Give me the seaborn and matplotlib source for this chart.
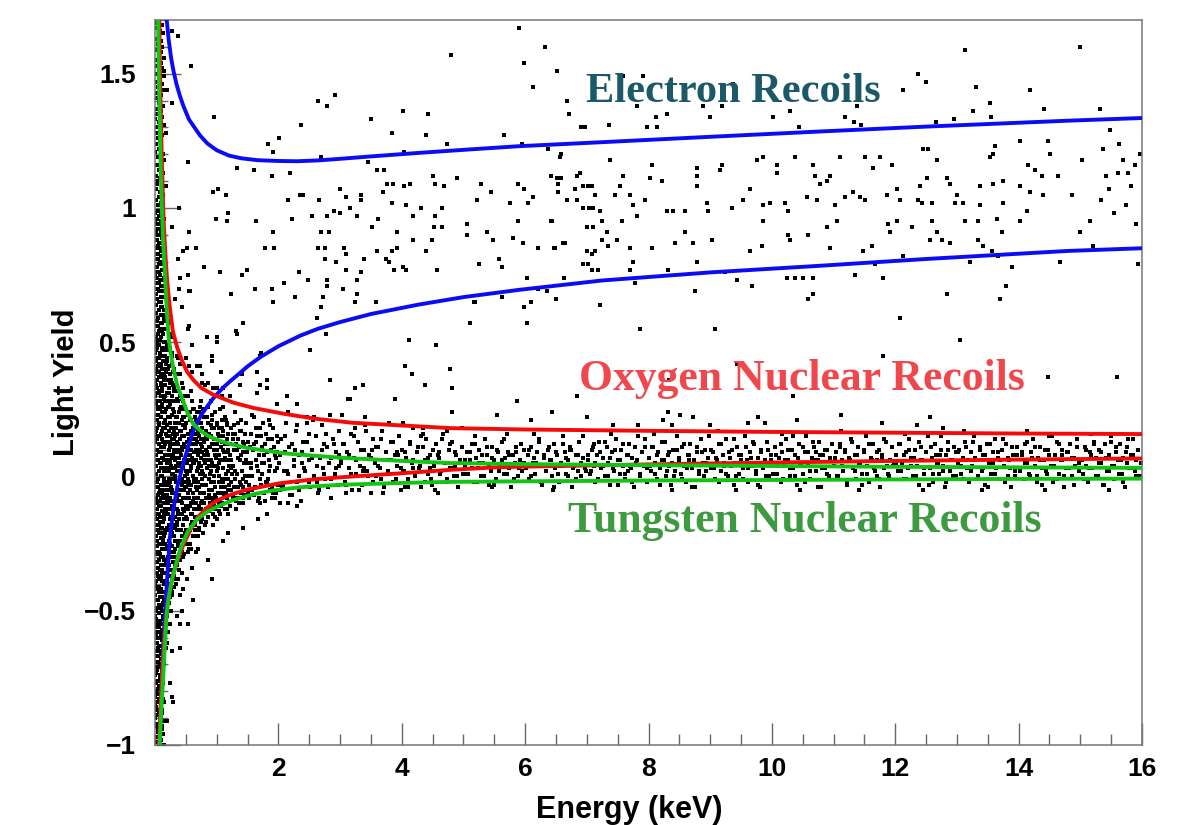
import numpy as np
import pandas as pd
import matplotlib
matplotlib.use("Agg")
import matplotlib.pyplot as plt
from matplotlib.ticker import MultipleLocator, FixedLocator, FuncFormatter
import seaborn as sns

# ---------------------------------------------------------------------------
# Recorded events: "energy light_yield" pairs, both in units of 1/100
# (keV and light-yield units).
# ---------------------------------------------------------------------------
events_threshold = """
4 169, 11 168, 2 167, 8 166, 13 165, 6 164, 1 163, 10 162, 5 161, 12 160, 3 159, 9 158, 7 157, 14 156, 0 155,
9 154, 3 153, 12 152, 6 151, 0 150, 14 149, 8 148, 2 147, 11 146, 5 145, 13 144, 1 143, 10 142, 4 141, 7 140,
6 139, 13 138, 1 137, 9 136, 4 135, 11 134, 0 133, 7 132, 14 131, 3 130, 10 129, 2 128, 12 127, 5 126, 8 125,
2 124, 10 123, 7 122, 0 121, 12 120, 5 119, 14 118, 9 117, 3 116, 11 115, 6 114, 13 113, 1 112, 8 111, 4 110,
4 109, 11 108, 2 107, 8 106, 13 105, 6 104, 1 103, 10 102, 5 101, 12 100, 3 99, 9 98, 7 97, 14 96, 0 95,
6 94, 13 93, 1 92, 9 91, 4 90, 11 89, 0 88, 7 87, 14 86, 3 85, 10 84, 2 83, 12 82, 5 81, 8 80,
9 79, 3 78, 12 77, 6 76, 0 75, 14 74, 8 73, 2 72, 11 71, 5 70, 13 69, 1 68, 10 67, 4 66, 7 65,
2 64, 10 63, 7 62, 0 61, 12 60, 5 59, 14 58, 9 57, 3 56, 11 55, 6 54, 13 53, 1 52, 8 51, 4 50,
4 49, 11 48, 2 47, 8 46, 13 45, 6 44, 1 43, 10 42, 5 41, 12 40, 3 39, 9 38, 7 37, 14 36, 0 35,
9 34, 3 33, 12 32, 6 31, 0 30, 14 29, 8 28, 2 27, 11 26, 5 25, 13 24, 1 23, 10 22, 4 21, 7 20,
6 19, 13 18, 1 17, 9 16, 4 15, 11 14, 0 13, 7 12, 14 11, 3 10, 10 9, 2 8, 12 7, 5 6, 8 5,
2 4, 10 3, 7 2, 0 1, 12 0, 5 -1, 14 -2, 9 -3, 3 -4, 11 -5, 6 -6, 13 -7, 1 -8, 8 -9, 4 -10,
9 -11, 3 -12, 12 -13, 6 -14, 0 -15, 14 -16, 8 -17, 2 -18, 11 -19, 5 -20, 13 -21, 1 -22, 10 -23, 4 -24, 7 -25,
4 -26, 11 -27, 2 -28, 8 -29, 13 -30, 6 -31, 1 -32, 10 -33, 5 -34, 12 -35, 3 -36, 9 -37, 7 -38, 14 -39, 0 -40,
2 -41, 10 -42, 7 -43, 0 -44, 12 -45, 5 -46, 14 -47, 9 -48, 3 -49, 11 -50, 6 -51, 13 -52, 1 -53, 8 -54, 4 -55,
6 -56, 13 -57, 1 -58, 9 -59, 4 -60, 11 -61, 0 -62, 7 -63, 14 -64, 3 -65, 10 -66, 2 -67, 12 -68, 5 -69, 8 -70,
4 -71, 11 -72, 2 -73, 8 -74, 13 -75, 6 -76, 1 -77, 10 -78, 5 -79, 12 -80, 3 -81, 9 -82, 7 -83, 14 -84, 0 -85,
9 -86, 3 -87, 12 -88, 6 -89, 0 -90, 14 -91, 8 -92, 2 -93, 11 -94, 5 -95, 13 -96, 1 -97, 10 -98, 4 -99, 7 -100,
14 55, 18 42, 12 30, 16 18, 19 5, 13 -8, 17 -20, 15 -33, 20 -45, 12 -58, 18 48, 14 36, 16 24, 13 11, 19 -2,
15 -14, 17 -27, 12 -39, 18 -52, 14 60, 16 -60, 20 28, 13 -24, 17 40, 15 2, 19 -36, 12 14, 18 -10, 14 -46, 16 50,
27 166, 15 151, 19 144, 28 139, 18 128, 13 120, 18 108, 39 100,
7 99, 0 98, 13 97, 4 96, 10 95, 2 94, 12 93, 6 92, 1 91, 9 90, 14 89, 3 88, 11 87, 5 86, 8 85,
12 84, 5 83, 9 82, 1 81, 14 80, 7 79, 3 78, 11 77, 0 76, 8 75, 4 74, 13 73, 6 72, 10 71, 2 70,
7 69, 0 68, 13 67, 4 66, 10 65, 2 64, 12 63, 6 62, 1 61, 9 60, 14 59, 3 58, 11 57, 5 56, 8 55,
12 54, 5 53, 9 52, 1 51, 14 50, 7 49, 3 48, 11 47, 0 46, 8 45, 4 44, 13 43, 6 42, 10 41, 2 40,
7 39, 0 38, 13 37, 4 36, 10 35, 2 34, 12 33, 6 32, 1 31, 9 30, 14 29, 3 28, 11 27, 5 26, 8 25,
12 24, 5 23, 9 22, 1 21, 14 20, 7 19, 3 18, 11 17, 0 16, 8 15, 4 14, 13 13, 6 12, 10 11, 2 10,
7 9, 0 8, 13 7, 4 6, 10 5, 2 4, 12 3, 6 2, 1 1, 9 0, 14 -1, 3 -2, 11 -3, 5 -4, 8 -5,
12 -6, 5 -7, 9 -8, 1 -9, 14 -10, 7 -11, 3 -12, 11 -13, 0 -14, 8 -15, 4 -16, 13 -17, 6 -18, 10 -19, 2 -20,
7 -21, 0 -22, 13 -23, 4 -24, 10 -25, 2 -26, 12 -27, 6 -28, 1 -29, 9 -30, 14 -31, 3 -32, 11 -33, 5 -34, 8 -35,
12 -36, 5 -37, 9 -38, 1 -39, 14 -40, 7 -41, 3 -42, 11 -43, 0 -44, 8 -45, 4 -46, 13 -47, 6 -48, 10 -49, 2 -50,
7 -51, 0 -52, 13 -53, 4 -54, 10 -55, 2 -56, 12 -57, 6 -58, 1 -59, 9 -60, 14 -61, 3 -62, 11 -63, 5 -64, 8 -65,
12 -66, 5 -67, 9 -68, 1 -69, 14 -70, 7 -71, 3 -72, 11 -73, 0 -74, 8 -75, 4 -76, 13 -77, 6 -78, 10 -79, 2 -80,
7 -81, 0 -82, 13 -83, 4 -84, 10 -85, 2 -86, 12 -87, 6 -88, 1 -89, 9 -90, 14 -91, 3 -92, 11 -93, 5 -94, 8 -95,
12 -96, 5 -97, 9 -98, 1 -99, 14 -100
"""

events_low_energy = """
15 62, 17 45, 22 58, 19 31, 26 52, 16 12, 21 40, 28 35, 18 -8, 24 22, 20 5, 27 18, 16 -25, 23 -12, 29 8,
18 -40, 25 -2, 21 -30, 17 50, 26 28, 22 -18, 19 68, 28 -5, 15 -48, 24 48, 20 15, 27 -22, 16 30, 23 2, 29 25,
18 -55, 25 38, 21 -10, 17 20, 26 -35, 22 10, 19 -62, 28 14, 15 -15, 24 -28, 20 55, 27 42, 16 -3, 23 33, 29 -12,
18 25, 25 -45, 21 -58, 17 -33, 26 4, 22 26, 19 -20, 28 -26, 15 38, 24 12, 20 -50, 27 30, 16 47, 23 -40, 29 -1,
18 16, 25 20, 21 64, 17 -12, 26 -15, 22 -5, 19 44, 28 45, 15 -60, 24 -8, 20 36, 27 7, 16 -43, 23 -24, 29 16,
18 3, 25 6,
31 40, 36 22, 44 10, 33 -15, 41 30, 47 -5, 38 5, 30 -30, 35 45, 42 -20, 48 18, 34 12, 39 -35, 45 25, 32 0,
37 32, 43 -10, 49 6, 31 -22, 36 -2, 40 17, 46 -12, 33 28, 38 -25, 44 35, 30 14, 35 -8, 41 2, 47 12, 34 -40,
39 24, 45 -18, 32 20, 37 -14, 42 8, 48 -8, 31 9, 36 38, 43 21, 49 -2, 33 -32, 40 -5, 46 28, 35 16, 30 -12,
38 44, 44 -28, 41 14, 47 22, 34 4, 39 -16, 45 3, 32 -38, 37 10, 42 26, 48 0, 36 -24, 43 -3, 33 6, 40 -44,
46 4, 31 24, 35 -20, 44 15, 49 11, 38 -9, 42 -14, 30 32, 47 -16, 34 18, 39 7, 45 -25, 37 -30, 41 42, 48 30,
32 -6, 36 13, 43 -22,
51 20, 56 -5, 62 12, 68 2, 74 -12, 79 8, 53 30, 59 -18, 65 22, 71 15, 77 -3, 52 5, 58 10, 64 -22, 70 -8,
76 18, 54 -12, 60 28, 66 6, 72 -15, 78 25, 55 14, 61 0, 67 -28, 73 10, 57 -25, 63 18, 69 -2, 75 4, 80 -10,
50 -20, 56 24, 62 -10, 68 20, 74 12, 79 -6, 53 8, 59 3, 65 -15, 71 -20, 77 14, 52 -8, 58 32, 64 5, 70 9,
76 -16, 54 16, 60 -14, 66 -4, 72 24, 78 1, 55 -2, 61 18, 67 12, 73 -6, 57 10, 63 -8, 69 16, 75 -10, 80 6,
51 -15, 62 25, 68 -12, 74 28, 56 12, 64 -2, 70 -22, 58 -10, 66 14, 72 4, 78 -14, 60 7, 76 9, 53 -28,
82 10, 88 -5, 95 18, 101 4, 108 -10, 114 12, 119 2, 84 22, 91 -12, 97 8, 104 15, 111 -2, 117 20, 86 -15, 93 5,
99 -8, 106 25, 112 6, 81 0, 87 16, 94 -18, 100 12, 107 -4, 113 -12, 118 9, 83 -8, 90 28, 96 -2, 103 8, 109 18,
115 -6, 85 6, 92 12, 98 24, 105 -14, 110 3, 116 14, 89 -10, 102 -6, 120 -3, 84 14, 91 2, 97 -12, 104 0, 111 10,
117 -8, 86 26, 93 18, 100 -16, 107 6, 113 22, 119 16, 82 -12, 95 10, 108 13, 88 4, 101 20, 114 -1, 96 14,
103 -10, 110 26, 118 -14,
121 8, 128 -4, 134 14, 141 2, 147 20, 153 -8, 159 10, 165 4, 172 -3, 178 12, 184 6, 191 -6, 197 15, 124 18,
131 -8, 137 6, 144 12, 150 0, 156 16, 162 -4, 169 8, 175 20, 181 -2, 188 10, 194 2, 123 -2, 130 24, 136 -10,
143 -4, 149 9, 155 3, 161 22, 168 -8, 174 1, 180 16, 187 -5, 193 11, 199 -3, 126 4, 133 10, 139 -6, 146 16,
152 5, 158 -5, 164 13, 171 18, 177 -6, 183 -1, 190 14, 196 7, 122 12, 129 2, 135 20, 142 -10, 148 -2, 154 11,
160 -7, 167 2, 173 11, 179 -9, 186 4, 192 18, 198 9, 127 14, 140 8, 151 13, 163 6, 176 5, 189 -8, 132 -12,
145 -7, 157 23, 170 -10, 185 21, 195 -8, 138 17, 166 15, 182 9,
46 -42, 53 -55, 41 -55, 41 -64, 28 -65, 92 -38, 86 -31, 110 -24, 62 -46, 44 -50, 60 -34, 52 -38, 28 -82,
29 -84, 24 -77, 19 -91, 118 -21, 143 -19, 167 -16, 182 -14, 203 -10, 216 -10, 230 -11, 35 -52, 70 -27,
17 8, 21 -14, 25 27, 30 -6, 18 -32, 23 41, 28 12, 33 -19, 20 -45, 26 -9, 31 33, 16 21, 22 -27, 27 53, 32 3,
19 -52, 24 -37, 29 -16, 34 22, 18 60, 23 17, 28 -43, 33 -1, 21 6, 26 36, 31 -28, 17 -21, 22 47, 27 -6, 32 15,
20 -2, 25 -30, 30 24, 35 -12, 19 13, 24 -55, 29 39, 34 7, 16 -36, 21 26, 26 -20, 31 10, 18 -64, 23 -3, 28 23,
33 -33, 20 43, 25 13, 30 -41, 35 29, 17 34, 22 -47, 27 1, 32 -24, 19 -9, 24 3, 29 -32, 34 -8, 21 57, 26 -50,
36 -17, 40 9, 45 -30, 50 20, 55 -8, 60 14, 65 -20, 70 3, 38 28, 43 -2, 48 -21, 53 11, 58 -14, 63 25, 68 -5,
37 -38, 42 17, 47 6, 52 -25, 57 2, 62 -9, 67 19, 39 -7, 44 -36, 49 26, 54 -3, 59 17, 64 9, 69 -16, 41 -24,
46 33, 51 -11, 56 8, 61 -22, 66 -1, 36 2, 43 11, 50 -4, 57 21, 64 -12, 38 -13, 45 19, 52 1, 59 -27, 66 10,
40 38, 47 -29, 54 23, 61 5, 68 13,
72 -4, 76 11, 81 -18, 85 3, 90 19, 94 -9, 99 7, 103 -2, 108 21, 112 -7, 117 6, 74 20, 79 -10, 83 15, 88 -1,
92 23, 97 -15, 101 10, 106 -6, 111 17, 115 1, 120 12, 71 5, 78 -21, 86 8, 93 -5, 100 2, 107 -11, 114 7,
119 -5, 73 26, 80 14, 87 -8, 95 0, 102 16, 109 -1, 116 19, 75 -17, 89 11, 104 5,
124 3, 130 16, 137 -2, 143 9, 150 -6, 156 5, 163 18, 170 -1, 176 8, 183 14, 190 -4, 197 3, 126 -7, 133 1,
140 21, 147 6, 153 -3, 160 12, 167 -9, 173 5, 180 -2, 187 19, 194 8, 199 13, 128 10, 142 -8, 158 0, 172 15,
185 2, 196 -6,
16 -5, 20 19, 24 -28, 28 3, 17 37, 21 -41, 25 11, 29 -18, 18 -13, 22 31, 26 -4, 30 -37, 15 24, 19 -26, 23 8,
27 46, 16 -50, 20 -7, 24 15, 28 -30, 17 2, 21 22, 25 -16, 29 34, 18 -36, 22 -1, 26 18, 30 9, 15 -22, 19 49,
23 -33, 27 -11, 16 28, 20 -19, 24 5, 28 -44, 17 -3, 21 13, 25 -25, 29 1, 18 39, 22 -9, 26 -42, 30 17, 15 6,
19 -14, 23 26, 27 -21, 20 -31, 24 35,
31 -11, 34 16, 37 -26, 40 4, 43 29, 46 -8, 49 19, 52 -16, 55 6, 58 -3, 32 34, 35 -18, 38 12, 41 -31, 44 -1,
47 15, 50 -12, 53 24, 56 -20, 59 10, 33 3, 36 -33, 39 20, 42 -9, 45 11, 48 -24, 51 2, 54 -6, 57 16, 60 -17,
31 18, 34 -2, 37 7, 40 -20, 43 -14, 46 22, 49 -4, 52 13, 55 -27, 58 21, 32 -27, 35 9, 38 -7, 41 25, 44 5,
47 -13, 50 30, 53 -1, 56 -11, 59 4,
61 -6, 64 12, 67 -15, 70 17, 73 1, 76 -9, 79 22, 82 -3, 85 9, 88 -13, 91 15, 94 4, 97 -7, 100 19, 62 6,
65 -18, 68 24, 71 -11, 74 7, 77 -1, 80 13, 83 -17, 86 20, 89 1, 92 -8, 95 12, 98 -4, 63 16, 66 -10, 69 3,
72 -19, 75 14, 78 -6, 81 5, 84 -12, 87 11, 90 -2, 93 21, 96 -11, 99 8, 64 -1, 70 8, 76 2, 82 17, 88 -7,
94 -14, 100 -9, 67 21, 79 -13, 91 6,
102 3, 106 -9, 110 15, 114 -4, 118 10, 122 -11, 126 16, 130 -1, 134 7, 138 -8, 142 13, 146 0, 150 5, 104 18,
108 -2, 112 9, 116 -12, 120 4, 124 -5, 128 19, 132 -9, 136 11, 140 -3, 144 5, 148 -7, 103 -13, 107 11,
111 -6, 115 21, 119 -1, 123 6, 127 -8, 131 12, 135 -4, 139 17, 143 -1, 147 9, 105 6, 125 1
"""

events_band = """
201 5, 204 14, 207 -3, 210 9, 213 20, 216 1, 219 -7, 222 12, 225 4, 228 17, 231 -2, 234 8, 237 -9, 240 13,
243 2, 246 22, 249 6, 252 -4, 255 10, 258 0, 261 15, 264 -6, 267 7, 270 19, 273 3, 276 -1, 279 11, 282 5,
285 -8, 288 14, 291 1, 294 9, 297 -3, 299 17, 203 -5, 215 24, 227 10, 238 5, 250 16, 262 -2, 274 12, 286 7,
298 4, 209 2, 233 -5, 256 21, 281 -4,
302 6, 305 12, 308 -2, 311 9, 314 3, 317 16, 320 -5, 323 7, 326 1, 329 13, 332 4, 335 -3, 338 10, 341 19,
344 2, 347 8, 350 -6, 353 14, 356 5, 359 0, 362 11, 365 3, 368 17, 371 -4, 374 9, 377 6, 380 1, 383 13,
386 -2, 389 8, 392 4, 395 15, 398 -5, 401 10, 404 2, 407 7, 410 -1, 413 12, 416 5, 419 18, 422 0, 425 9,
428 3, 431 -4, 434 11, 437 6, 440 14, 443 1, 446 8, 449 -3, 452 4, 455 12, 458 -6, 461 7, 464 2, 467 16,
470 5, 473 -2, 476 10, 479 3, 482 13, 485 0, 488 8, 491 -4, 494 6, 497 11, 310 -6, 324 18, 337 2, 351 10,
366 -1, 379 20, 393 9, 406 -4, 418 3, 432 15, 447 -1, 460 9, 474 17, 487 4, 499 1,
502 4, 505 9, 508 1, 511 6, 514 12, 517 -2, 520 7, 523 3, 526 10, 529 0, 532 5, 535 14, 538 8, 541 -3,
544 2, 547 11, 550 6, 553 -1, 556 9, 559 4, 562 13, 565 1, 568 7, 571 16, 574 3, 577 -4, 580 8, 583 5,
586 11, 589 0, 592 6, 595 2, 598 10, 518 15, 546 -4, 573 9,
601 3, 604 8, 607 -1, 610 11, 613 5, 616 1, 619 9, 622 14, 625 4, 628 -3, 631 7, 634 2, 637 10, 640 6,
643 0, 646 12, 649 3, 652 8, 655 -2, 658 5, 661 15, 664 9, 667 1, 670 6, 673 11, 676 -4, 679 4, 682 8,
685 2, 688 13, 691 0, 694 7, 697 3, 615 16, 645 -5, 672 10,
702 6, 705 1, 708 10, 711 4, 714 -2, 717 8, 720 13, 723 3, 726 7, 729 0, 732 11, 735 5, 738 -3, 741 9,
744 2, 747 14, 750 6, 753 1, 756 10, 759 4, 762 -1, 765 8, 768 12, 771 3, 774 7, 777 -4, 780 5, 783 15,
786 1, 789 9, 792 4, 795 11, 798 -2, 712 12, 740 16, 766 2,
801 7, 804 2, 807 11, 810 5, 813 -1, 816 9, 819 3, 822 13, 825 6, 828 0, 831 8, 834 4, 837 -3, 840 10,
843 2, 846 15, 849 6, 852 1, 855 11, 858 4, 861 -2, 864 8, 867 12, 870 3, 873 6, 876 -4, 879 9, 882 1,
885 14, 888 5, 891 10, 894 2, 897 7, 809 16, 838 -5, 866 6,
902 3, 905 9, 908 -1, 911 6, 914 12, 917 2, 920 8, 923 4, 926 14, 929 0, 932 7, 935 10, 938 -3, 941 5,
944 11, 947 1, 950 8, 953 3, 956 15, 959 6, 962 -2, 965 9, 968 4, 971 12, 974 1, 977 7, 980 -4, 983 10,
986 3, 989 6, 992 13, 995 0, 998 8, 913 17, 942 -5, 970 5,
1002 5, 1005 11, 1008 1, 1011 7, 1014 -2, 1017 9, 1020 4, 1023 14, 1026 6, 1029 0, 1032 10, 1035 3,
1038 8, 1041 -3, 1044 12, 1047 5, 1050 1, 1053 9, 1056 15, 1059 4, 1062 -1, 1065 7, 1068 11, 1071 2,
1074 6, 1077 13, 1080 -4, 1083 8, 1086 3, 1089 10, 1092 0, 1095 6, 1098 12, 1016 16, 1046 -5, 1072 9,
1101 4, 1104 9, 1107 0, 1110 12, 1113 6, 1116 2, 1119 10, 1122 -3, 1125 7, 1128 14, 1131 3, 1134 8,
1137 -1, 1140 11, 1143 5, 1146 1, 1149 9, 1152 15, 1155 4, 1158 -2, 1161 7, 1164 12, 1167 2, 1170 6,
1173 10, 1176 -4, 1179 8, 1182 3, 1185 13, 1188 1, 1191 6, 1194 11, 1197 4, 1112 17, 1142 -5, 1171 0,
1202 8, 1205 2, 1208 12, 1211 5, 1214 -1, 1217 9, 1220 3, 1223 14, 1226 7, 1229 0, 1232 10, 1235 4,
1238 -3, 1241 11, 1244 6, 1247 1, 1250 9, 1253 15, 1256 3, 1259 7, 1262 -2, 1265 12, 1268 5, 1271 1,
1274 10, 1277 4, 1280 -4, 1283 8, 1286 13, 1289 2, 1292 6, 1295 11, 1298 0, 1215 16, 1245 -5, 1273 8,
1301 5, 1304 10, 1307 1, 1310 7, 1313 13, 1316 3, 1319 -2, 1322 9, 1325 4, 1328 15, 1331 6, 1334 0,
1337 11, 1340 2, 1343 8, 1346 -3, 1349 12, 1352 5, 1355 1, 1358 9, 1361 14, 1364 3, 1367 7, 1370 -1,
1373 10, 1376 4, 1379 12, 1382 0, 1385 6, 1388 -4, 1391 8, 1394 2, 1397 11, 1311 17, 1341 -5, 1369 6,
1402 3, 1405 8, 1408 -1, 1411 12, 1414 5, 1417 1, 1420 9, 1423 14, 1426 4, 1429 0, 1432 7, 1435 11,
1438 -3, 1441 6, 1444 2, 1447 10, 1450 15, 1453 4, 1456 -2, 1459 8, 1462 13, 1465 1, 1468 6, 1471 10,
1474 -4, 1477 3, 1480 9, 1483 12, 1486 0, 1489 7, 1492 4, 1495 14, 1498 2, 1413 17, 1443 -5, 1470 8,
1501 6, 1504 1, 1507 11, 1510 4, 1513 -2, 1516 9, 1519 3, 1522 13, 1525 7, 1528 0, 1531 10, 1534 5,
1537 -3, 1540 12, 1543 2, 1546 8, 1549 15, 1552 4, 1555 -1, 1558 9, 1561 6, 1564 12, 1567 1, 1570 7,
1573 -4, 1576 11, 1579 3, 1582 8, 1585 14, 1588 2, 1591 6, 1594 10, 1597 0, 1517 16, 1547 -5, 1575 5,
202 8, 206 -4, 210 15, 214 2, 218 11, 222 -7, 226 6, 230 19, 234 0, 238 9, 242 3, 246 13, 250 -2,
254 7, 258 22, 262 4, 266 -5, 270 10, 274 1, 278 16, 282 5, 286 -1, 290 12, 294 3, 298 8,
302 5, 306 12, 310 -3, 314 8, 318 1, 322 15, 326 6, 330 -5, 334 10, 338 3, 342 17, 346 0, 350 7,
354 -2, 358 11, 362 4, 366 14, 370 -6, 374 9, 378 2, 382 6, 386 13, 390 -1, 394 8, 398 3,
402 2, 406 9, 410 -4, 414 13, 418 6, 422 0, 426 11, 430 4, 434 16, 438 -2, 442 7, 446 3, 450 10,
454 -5, 458 8, 462 1, 466 14, 470 5, 474 -1, 478 12, 482 3, 486 9, 490 0, 494 6, 498 18,
502 6, 506 1, 510 9, 514 3, 518 12, 522 -2, 526 5, 530 8, 534 0, 538 11, 542 4, 546 7, 550 -3,
554 10, 558 2, 562 6, 566 14, 570 1, 574 8, 578 4, 582 -1, 586 9, 590 3, 594 12, 598 5,
602 3, 606 10, 610 0, 614 7, 618 5, 622 13, 626 -2, 630 8, 634 2, 638 11, 642 6, 646 -4, 650 9,
654 1, 658 4, 662 12, 666 7, 670 0, 674 10, 678 3, 682 -1, 686 8, 690 5, 694 15, 698 2,
702 8, 706 2, 710 11, 714 5, 718 -1, 722 9, 726 4, 730 13, 734 0, 738 7, 742 3, 746 10, 750 -3,
754 6, 758 12, 762 1, 766 8, 770 4, 774 -2, 778 11, 782 6, 786 0, 790 9, 794 14, 798 3,
802 4, 806 11, 810 1, 814 8, 818 -3, 822 6, 826 13, 830 2, 834 9, 838 5, 842 0, 846 10, 850 7,
854 -1, 858 12, 862 3, 866 8, 870 -4, 874 6, 878 11, 882 2, 886 9, 890 0, 894 5, 898 15,
902 10, 906 3, 910 7, 914 -2, 918 12, 922 5, 926 1, 930 9, 934 4, 938 14, 942 0, 946 8, 950 6,
954 -1, 958 11, 962 3, 966 7, 970 13, 974 2, 978 -3, 982 9, 986 5, 990 0, 994 10, 998 6,
1002 1, 1006 8, 1010 4, 1014 12, 1018 -1, 1022 6, 1026 10, 1030 3, 1034 15, 1038 0, 1042 7, 1046 5,
1050 11, 1054 -2, 1058 9, 1062 2, 1066 13, 1070 6, 1074 -4, 1078 8, 1082 3, 1086 10, 1090 1, 1094 7, 1098 12,
1102 7, 1106 0, 1110 11, 1114 4, 1118 9, 1122 -2, 1126 6, 1130 13, 1134 2, 1138 8, 1142 5, 1146 -3,
1150 10, 1154 1, 1158 12, 1162 6, 1166 3, 1170 9, 1174 -1, 1178 7, 1182 14, 1186 4, 1190 0, 1194 11, 1198 5,
1202 5, 1206 12, 1210 2, 1214 8, 1218 -1, 1222 10, 1226 4, 1230 7, 1234 0, 1238 13, 1242 6, 1246 3,
1250 9, 1254 -3, 1258 11, 1262 1, 1266 8, 1270 5, 1274 15, 1278 2, 1282 -2, 1286 10, 1290 6, 1294 0, 1298 9,
1302 9, 1306 4, 1310 -1, 1314 11, 1318 6, 1322 2, 1326 13, 1330 7, 1334 0, 1338 10, 1342 3, 1346 8,
1350 -4, 1354 12, 1358 5, 1362 1, 1366 9, 1370 6, 1374 14, 1378 -2, 1382 7, 1386 3, 1390 11, 1394 0, 1398 8,
1402 2, 1406 9, 1410 5, 1414 13, 1418 0, 1422 7, 1426 11, 1430 -2, 1434 6, 1438 3, 1442 10, 1446 1,
1450 8, 1454 15, 1458 4, 1462 -1, 1466 12, 1470 6, 1474 0, 1478 9, 1482 3, 1486 7, 1490 -3, 1494 11, 1498 5,
1502 6, 1506 -1, 1510 10, 1514 3, 1518 8, 1522 12, 1526 0, 1530 5, 1534 9, 1538 -3, 1542 7, 1546 2,
1550 13, 1554 4, 1558 11, 1562 1, 1566 6, 1570 -2, 1574 9, 1578 14, 1582 3, 1586 8, 1590 0, 1594 10, 1598 5
"""

events_electron = """
480 157, 632 160, 598 154, 652 151, 613 145, 668 140, 671 135, 697 130, 292 142, 264 140, 279 138, 237 131,
183 124, 201 126, 191 121, 350 133, 402 136, 442 135, 384 128, 439 127, 473 124, 566 127, 595 124, 269 119,
404 121, 637 122, 658 120, 161 114, 190 112, 219 113, 345 117, 360 114, 371 114, 240 105, 216 103, 266 103,
300 107, 310 104, 334 105, 334 103, 376 109, 386 109, 370 106, 404 108, 413 109, 384 102, 407 101, 431 100,
451 112, 454 109, 468 108, 489 111, 528 109, 545 106, 522 103, 465 100, 454 97, 164 95, 222 96, 254 97,
279 97, 290 99, 300 98, 316 100, 327 97, 361 96, 352 93, 392 91, 418 97, 452 93, 465 93, 506 94, 506 90,
538 91, 548 88, 575 102, 588 95, 580 89, 596 87, 588 109, 598 107, 613 104, 605 102, 642 112, 653 109,
658 111, 689 113, 694 108, 708 108, 713 105, 684 103, 668 103, 703 100, 642 95, 710 93, 647 85, 665 87,
621 85, 708 83, 702 79, 718 77, 178 85, 193 85, 191 91, 162 70, 190 70, 191 65, 227 67, 209 72, 233 76,
248 73, 269 91, 282 91, 264 85, 276 85, 276 81, 293 80, 279 73, 279 71, 272 67, 269 63, 263 59, 305 70,
310 77, 306 85, 310 83, 327 68, 324 65, 327 73, 334 76, 339 81, 360 84, 358 65, 374 81, 379 80, 387 77,
384 84, 392 85, 402 78, 407 77, 418 88, 439 84, 449 88, 457 77, 525 79, 558 81, 562 78, 603 74, 663 74,
519 65, 562 67, 598 63, 609 65, 635 69, 621 70, 511 57, 603 57, 412 51, 455 49, 277 53, 251 47, 172 46,
37 164, 58 153, 96 134, 53 117, 133 115, 94 106, 102 107, 115 105, 118 98, 99 96, 117 95, 55 91, 28 93,
66 85, 52 85, 37 81, 41 74, 53 75, 79 78, 105 76, 141 75, 149 77, 55 69, 123 68, 235 105, 254 97,
46 84, 39 70, 57 69, 32 66, 44 63, 55 56, 53 55, 143 57, 133 53, 84 52, 100 52, 100 50, 60 49, 92 45,
107 39, 92 43, 68 41, 73 41, 50 44, 55 41, 60 39, 76 38, 76 35, 81 34, 86 35, 94 33, 100 33, 110 33,
108 30, 122 30, 138 34, 141 38, 165 39, 182 36, 170 45, 165 31, 182 33, 214 30,
170 34, 198 27, 230 27, 284 36, 316 29, 337 34, 389 29, 438 34, 284 23, 303 23, 340 22, 402 20, 434 18,
246 20, 131 54, 324 33, 313 29, 405 41, 417 38, 478 40, 481 33, 481 24, 517 65, 554 23,
587 28, 684 30, 643 24, 609 21, 700 22, 742 19, 783 19, 823 21, 831 24, 851 23, 872 22, 838 19, 900 19,
961 20, 977 22, 989 20, 1034 30, 1040 21, 1112 23, 1178 20, 1235 19, 1256 22, 1204 35, 1277 18,
690 130, 736 131, 759 149, 791 149, 781 138, 797 130, 812 134, 814 130, 830 135, 888 138, 899 134, 919 138,
937 146, 981 147, 1002 134, 1029 136, 1044 130, 1118 134, 1133 132, 1144 131, 1138 138, 1212 144, 1237 150,
1250 147, 1266 132, 1295 133, 1326 136, 1331 145, 1353 139, 1355 134, 1418 144, 1441 137, 1313 159,
656 119, 652 111, 653 106, 643 95, 661 87, 684 112, 681 107, 702 108, 694 100, 710 100, 700 93, 721 99,
724 95, 733 91, 737 118, 746 105, 754 108, 759 112, 757 95, 770 105, 775 101, 781 97, 794 103, 802 111,
805 116, 822 110, 830 99, 840 99, 859 99, 878 112, 878 115, 878 108, 895 102, 896 99, 916 114, 919 116,
935 100, 953 103, 964 107, 976 118, 985 119, 985 101, 997 102, 1008 116, 1008 113, 1021 102, 1026 99,
1037 119, 1057 104, 1066 116, 1070 112, 1073 103, 1078 109, 1089 110, 1094 112, 1102 101, 1110 119,
1118 104, 1131 106, 1143 104, 1151 103, 1151 119, 1164 115, 1175 119, 1186 105, 1195 116, 1203 107,
1207 103, 1240 108, 1251 111, 1245 122, 1253 122, 1267 118, 1237 103, 1243 102, 1259 102, 1284 111,
1288 109, 1300 105, 1297 102, 1310 102, 1337 108, 1353 119, 1361 123, 1358 109, 1374 110, 1374 102,
1402 108, 1418 106, 1415 116, 1426 114, 1438 112, 1439 105, 1451 120, 1447 125, 1402 125, 1358 120,
1464 112, 1337 101,
648 85, 700 84, 713 84, 694 79, 708 77, 724 88, 734 86, 749 88, 770 85, 775 80, 770 77, 778 72, 805 85,
831 77, 843 87, 859 91, 872 87, 878 80, 903 88, 924 76, 943 73, 964 84, 967 71, 984 86, 985 95, 1024 74,
1037 74, 1050 74, 1066 74, 1066 68, 1026 90, 1029 88, 1058 90, 1094 85, 1105 95, 1089 93, 1147 84,
1162 86, 1167 79, 1180 74, 1188 94, 1191 91, 1203 95, 1212 82, 1227 93, 1256 88, 1267 91, 1275 88,
1288 87, 1313 95, 1321 80, 1334 95, 1334 88, 1342 86, 1357 84, 1366 82, 1365 96, 1373 91, 1389 78,
1402 95, 1413 99, 1467 80, 1284 68, 1259 95,
1532 137, 1569 118, 1577 113, 1588 116, 1561 113, 1582 108, 1533 103, 1554 98, 1536 122, 1548 129,
1596 120, 1593 79, 1502 118, 1515 95, 1486 105, 1499 91, 1559 37, 1499 160, 1520 86, 1547 107, 1574 101,
1590 94, 1563 124, 1541 112,
650 66, 721 64, 875 69, 786 55, 908 55, 1058 66, 1135 75, 1207 59, 1370 66, 1380 71, 1305 51, 1447 37,
943 42, 1180 45, 833 36, 590 167
"""

# Acceptance bands (energy in keV, light yield)
er_upper_e = [0.19, 0.22, 0.26, 0.30, 0.35, 0.40, 0.46, 0.55, 0.64, 0.73, 0.85, 1.0, 1.2, 1.4, 1.66, 2.0,
              2.3, 2.64, 3.0, 3.5, 4.27, 5.1, 5.9, 7.25, 9.0, 10.8, 12.5, 14.8, 16.0]
er_upper_y = [1.70, 1.63, 1.56, 1.51, 1.46, 1.42, 1.38, 1.33, 1.30, 1.27, 1.24, 1.215, 1.195, 1.185, 1.178,
              1.175, 1.174, 1.177, 1.183, 1.192, 1.205, 1.218, 1.23, 1.245, 1.265, 1.285, 1.303, 1.325, 1.335]
er_lower_e = [0.075, 0.09, 0.11, 0.13, 0.16, 0.20, 0.24, 0.30, 0.36, 0.46, 0.55, 0.62, 0.75, 0.94, 1.1, 1.22,
              1.4, 1.5, 1.71, 2.0, 2.36, 2.64, 3.0, 3.5, 4.27, 5.0, 5.9, 7.25, 9.0, 10.8, 12.5, 14.8, 16.0]
er_lower_y = [-1.0, -0.88, -0.77, -0.64, -0.52, -0.37, -0.23, -0.12, -0.04, 0.05, 0.12, 0.17, 0.23, 0.29,
              0.33, 0.355, 0.39, 0.41, 0.445, 0.485, 0.525, 0.55, 0.575, 0.605, 0.64, 0.668, 0.695, 0.73,
              0.76, 0.785, 0.81, 0.84, 0.85]
o_upper_e = [0.07, 0.085, 0.10, 0.12, 0.14, 0.17, 0.20, 0.24, 0.29, 0.36, 0.44, 0.52, 0.62, 0.75, 0.94, 1.27,
             1.6, 2.1, 2.6, 3.2, 4.0, 4.8, 6.0, 8.0, 10.0, 12.0, 14.0, 16.0]
o_upper_y = [1.70, 1.45, 1.28, 1.10, 0.95, 0.82, 0.72, 0.63, 0.54, 0.48, 0.43, 0.39, 0.36, 0.33, 0.305, 0.275,
             0.255, 0.233, 0.215, 0.20, 0.19, 0.18, 0.175, 0.17, 0.166, 0.163, 0.16, 0.158]
o_lower_e = [0.065, 0.09, 0.12, 0.16, 0.20, 0.25, 0.30, 0.37, 0.45, 0.57, 0.70, 0.85, 1.0, 1.25, 1.49, 2.03,
             2.6, 3.2, 4.0, 4.8, 5.6, 8.0, 10.0, 12.0, 14.0, 16.0]
o_lower_y = [-1.0, -0.86, -0.72, -0.58, -0.48, -0.41, -0.36, -0.31, -0.26, -0.20, -0.15, -0.115, -0.09,
             -0.066, -0.049, -0.025, -0.01, 0.0, 0.012, 0.025, 0.035, 0.045, 0.052, 0.058, 0.063, 0.067]
w_upper_e = [0.05, 0.065, 0.08, 0.095, 0.11, 0.13, 0.16, 0.19, 0.22, 0.26, 0.30, 0.36, 0.45, 0.53, 0.62, 0.75,
             0.87, 1.0, 1.2, 1.5, 2.1, 3.0, 4.0, 4.8, 6.0, 8.0, 10.0, 12.0, 14.0, 16.0]
w_upper_y = [1.70, 1.45, 1.28, 1.12, 1.00, 0.88, 0.76, 0.62, 0.52, 0.45, 0.40, 0.34, 0.285, 0.235, 0.195,
             0.168, 0.15, 0.137, 0.122, 0.106, 0.086, 0.07, 0.058, 0.05, 0.046, 0.042, 0.039, 0.036, 0.034, 0.032]
w_lower_e = [0.075, 0.10, 0.13, 0.16, 0.19, 0.23, 0.28, 0.34, 0.41, 0.53, 0.68, 0.84, 1.0, 1.26, 1.6, 1.91,
             2.35, 3.0, 4.0, 4.8, 6.0, 8.0, 10.0, 12.0, 14.0, 16.0]
w_lower_y = [-1.0, -0.88, -0.76, -0.63, -0.51, -0.44, -0.38, -0.325, -0.27, -0.205, -0.16, -0.132, -0.113,
             -0.088, -0.066, -0.052, -0.04, -0.031, -0.024, -0.02, -0.018, -0.015, -0.013, -0.011, -0.009, -0.008]

x_ticks = [2, 4, 6, 8, 10, 12, 14, 16]
y_ticks = [-1, -0.5, 0, 0.5, 1, 1.5]

labels = {
    "Electron Recoils": (9.37, 1.433, "#1b5868", 30.5),
    "Oxygen Nuclear Recoils": (10.49, 0.362, "#f0474d", 31.5),
    "Tungsten Nuclear Recoils": (10.53, -0.164, "#3e9a3f", 31.5),
}


def to_frame(text):
    vals = np.array(text.replace(",", " ").split(), dtype=float).reshape(-1, 2) / 100.0
    return pd.DataFrame({"energy": vals[:, 0], "light_yield": vals[:, 1]})


events = pd.concat([to_frame(t) for t in (events_threshold, events_low_energy,
                                           events_band, events_electron)], ignore_index=True)

sns.set_theme(style="white")
plt.rcParams["font.family"] = ["Liberation Sans", "DejaVu Sans"]
plt.rcParams["axes.unicode_minus"] = True

fig = plt.figure(figsize=(12.04, 8.25), dpi=100)
ax = fig.add_axes([155 / 1204, 80 / 825, 987 / 1204, 725 / 825])

sns.scatterplot(data=events, x="energy", y="light_yield", ax=ax, color="black", marker="s",
                s=10.5, linewidth=0, legend=False, zorder=2)

bands = [
    (er_upper_e, er_upper_y, "#0b0bf5"),
    (er_lower_e, er_lower_y, "#0b0bf5"),
    (o_upper_e, o_upper_y, "#f50a0a"),
    (o_lower_e, o_lower_y, "#f50a0a"),
    (w_upper_e, w_upper_y, "#14c414"),
    (w_lower_e, w_lower_y, "#14c414"),
]
for be, by, col in bands:
    sns.lineplot(x=be, y=by, ax=ax, color=col, linewidth=2.8, sort=False, estimator=None,
                 legend=False, zorder=3)

ax.set_xlim(0, 16)
ax.set_ylim(-1, 1.7)

ax.xaxis.set_major_locator(FixedLocator(x_ticks))
ax.xaxis.set_minor_locator(MultipleLocator(0.5))
ax.yaxis.set_major_locator(FixedLocator(y_ticks))
ax.yaxis.set_minor_locator(MultipleLocator(0.1))
fmt = FuncFormatter(lambda v, p: ("%g" % v).replace("-", "\u2212"))
ax.xaxis.set_major_formatter(fmt)
ax.yaxis.set_major_formatter(fmt)

ax.tick_params(axis="both", which="both", direction="in", colors="#666666", width=1.0,
               labelcolor="black", labelsize=19, bottom=True, left=True, top=False, right=False)
ax.tick_params(axis="x", which="major", length=16, pad=9)
ax.tick_params(axis="x", which="minor", length=8)
ax.tick_params(axis="y", which="major", length=19, pad=14)
ax.tick_params(axis="y", which="minor", length=9.5)
for lab in ax.get_xticklabels() + ax.get_yticklabels():
    lab.set_fontweight("bold")

for side in ("left", "right", "top", "bottom"):
    ax.spines[side].set_visible(True)
    ax.spines[side].set_color("#777777")
    ax.spines[side].set_linewidth(1.1)

ax.set_xlabel("Energy (keV)", fontsize=22, fontweight="bold", color="black")
ax.set_ylabel("Light Yield", fontsize=21, fontweight="bold", color="black")
ax.xaxis.set_label_coords(0.48, -0.069)
ax.yaxis.set_label_coords(-0.076, 0.5)

for text, (lx, ly, col, fs) in labels.items():
    ax.text(lx, ly, text, color=col, fontsize=fs, fontweight="bold",
            family=["Liberation Serif", "DejaVu Serif"], ha="center", va="center", zorder=4)

fig.savefig("out.png", dpi=100, facecolor="white")
